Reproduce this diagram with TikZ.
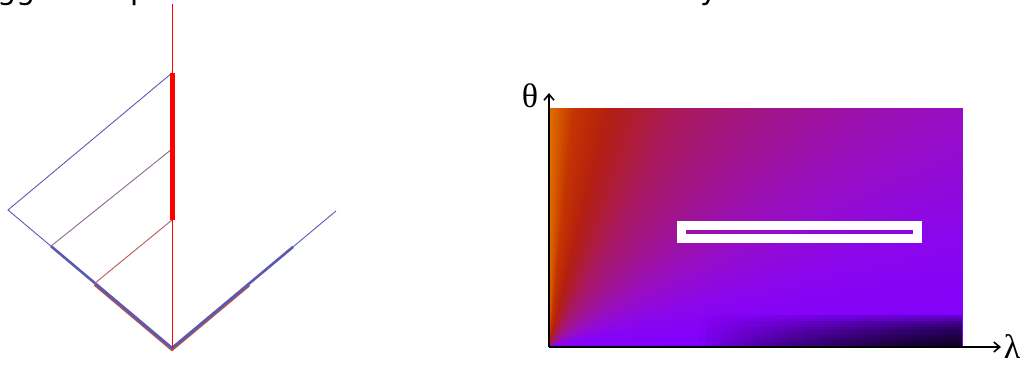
\documentclass[tikz,border=0pt]{standalone}
\usepackage{fontspec}
\setmainfont{DejaVu Sans}
\newfontfamily\greekfont{Liberation Serif}
\usepackage{tikz}
\usetikzlibrary{arrows.meta,calc,fadings}
\definecolor{rayblue}{HTML}{5A5AB4}
\definecolor{raymauve}{HTML}{8E6496}
\definecolor{rayrose}{HTML}{B85A5A}
\definecolor{armred}{HTML}{B4504A}
% stops of the angular colour map, 0 deg -> 90 deg
\definecolor{qa}{HTML}{8000FF}
\definecolor{qb}{HTML}{8A06EE}
\definecolor{qc}{HTML}{980EC4}
\definecolor{qd}{HTML}{A01490}
\definecolor{qe}{HTML}{A81860}
\definecolor{qf}{HTML}{B42010}
\definecolor{qg}{HTML}{C43400}
\definecolor{qh}{HTML}{E07000}
\tikzfading[name=fade bottom, top color=transparent!100, bottom color=transparent!0]
\tikzset{
  ray/.style={line width=0.9pt},
  armblueline/.style={draw=rayblue, line width=2.6pt},
  armredline/.style={draw=armred, line width=3.4pt},
  axis/.style={line width=1.6pt, -{Straight Barb[length=6pt,width=10pt]}},
  axlabel/.style={font=\greekfont\fontsize{34}{34}\selectfont, inner sep=0pt},
}

\begin{document}
\begin{tikzpicture}[x=1pt,y=1pt]
  \useasboundingbox (0,0) rectangle (1032,366);
  % title, cut off by the page edge
  \node[anchor=base west, inner sep=0pt, font=\fontsize{30}{30}\selectfont]
       (title) at (-54,366) {Bragg and Specular reflection of neutrons in theory};

  % mirror geometry
  \coordinate (o)   at (172,18);
  \coordinate (top) at (172,362);
  \coordinate (a)   at (172,293);
  \coordinate (m)   at (172,217);
  \coordinate (b)   at (172,146);
  \coordinate (l)   at (8,156);
  \coordinate (r)   at (336,155);
  \coordinate (l1)  at ($(o)!0.738!(l)$);
  \coordinate (l2)  at ($(o)!0.47!(l)$);
  \coordinate (r1)  at ($(o)!0.738!(r)$);
  \coordinate (r2)  at ($(o)!0.47!(r)$);

  \draw[armredline] ([yshift=-1.2pt]l2) -- ([yshift=-1.2pt]o) -- ([yshift=-1.2pt]r2);
  \draw[ray, rayblue] (a) -- (l) -- (o) -- (r);
  \draw[armblueline] (l1) -- (o) -- (r1);
  \draw[ray, raymauve] (m) -- (l1);
  \draw[ray, rayrose] (b) -- (l2);
  \draw[red, line width=0.8pt] (o) -- (top);
  \draw[red, line width=5pt] (a) -- (b);

  % theta-lambda map
  \coordinate (org)   at (549,19);
  \coordinate (ytip)  at (549,273);
  \coordinate (xtip)  at (1001,19);
  \begin{scope}[shift={(org)}]
    \clip (0,0) rectangle (413,238);
    % sectors from 0 deg up to each angle, widest first
    \foreach \alo/\ahi/\cfrom/\cto in {84/90/qg/qh, 76/84/qf/qg, 60/76/qe/qf,
        45/60/qd/qe, 30/45/qc/qd, 15/30/qb/qc, 0/15/qa/qb}{
      \pgfmathtruncatemacro\n{(\ahi-\alo)*2-1}
      \foreach \i in {\n,...,0}{
        \pgfmathsetmacro\angB{\alo+(\i+1)/2}
        \pgfmathsetmacro\angM{\angB/2}
        \pgfmathsetmacro\p{100-100*(\i/2+0.25)/(\ahi-\alo)}
        \fill[\cfrom!\p!\cto] (0,0) -- (0:800) -- (\angM:800) -- (\angB:800) -- cycle;
      }
    }
    % darker towards small theta, large lambda
    \foreach \k in {0,...,39}{
      \fill[black, path fading=fade bottom, fill opacity=0.045]
        ({150+\k*6.6},0) rectangle (413,34);
    }
  \end{scope}
  \node[draw=white, line width=8.5pt, minimum width=236pt, minimum height=13pt,
        inner sep=0pt] (band) at (799.5,134) {};

  \draw[axis] (org) -- (ytip);
  \draw[axis] (org) -- (xtip);
  \node[axlabel] (thetalab) at (530,270) {θ};
  \node[axlabel] (lamlab) at (1012,19) {λ};
\end{tikzpicture}
\end{document}
